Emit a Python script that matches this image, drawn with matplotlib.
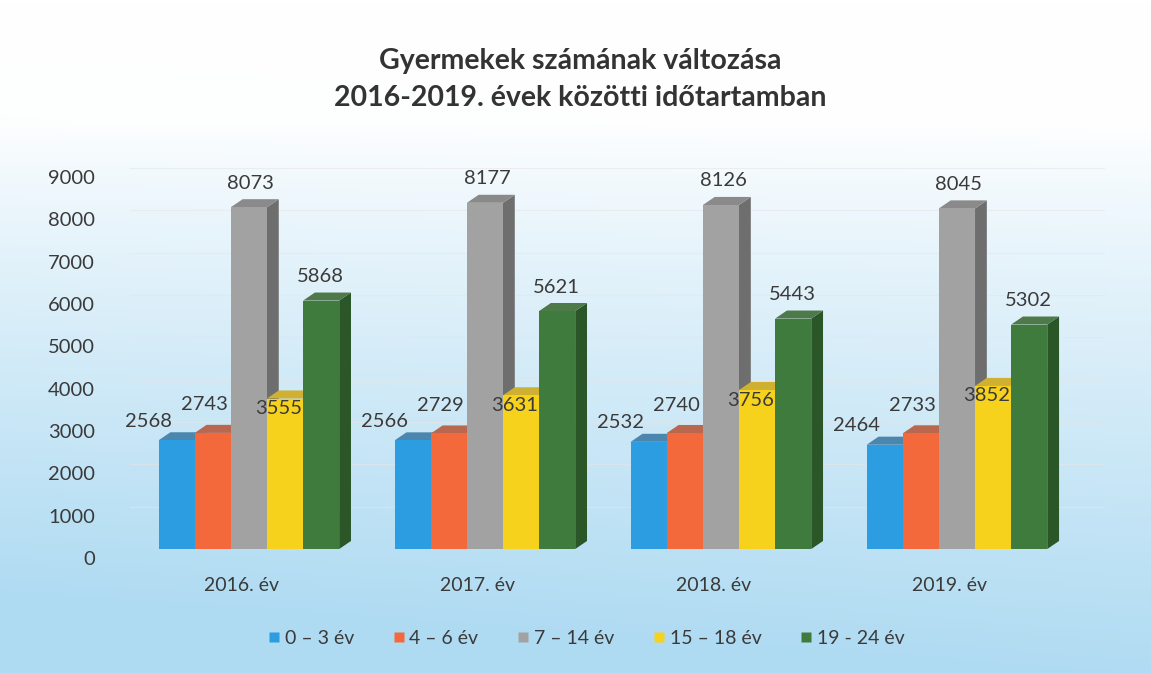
import numpy as np
import matplotlib.pyplot as plt
import matplotlib.transforms as mtrans
from matplotlib.patches import Polygon, Rectangle
from matplotlib.lines import Line2D

# ---- data ----
years = ["2016. év", "2017. év", "2018. év", "2019. év"]
groups = ["0 – 3 év", "4 – 6 év", "7 – 14 év", "15 – 18 év", "19 - 24 év"]
v_0_3 = [2568, 2566, 2532, 2464]
v_4_6 = [2743, 2729, 2740, 2733]
v_7_14 = [8073, 8177, 8126, 8045]
v_15_18 = [3555, 3631, 3756, 3852]
v_19_24 = [5868, 5621, 5443, 5302]
series = [v_0_3, v_4_6, v_7_14, v_15_18, v_19_24]
yticks = list(range(0, 9001, 1000))

# ---- style ----
front = ["#2b9de0", "#f4693c", "#a2a2a2", "#f7d21c", "#3e7b3c"]
side = ["#1d6fa3", "#b24a2a", "#6e6e6e", "#c9a612", "#2a5628"]
topc = ["#4a86ad", "#b9674e", "#8a8a8a", "#d0b030", "#4e7a4a"]
# label offsets in pixels (dx, dy) relative to bar front top centre
lab_off = [(-28, 19), (-8, 28), (2, 24), (-6, -10), (-1, 24)]
txt = "#3a3a3a"
plt.rcParams["font.family"] = ["Lato", "DejaVu Sans"]

fig = plt.figure(figsize=(11.51, 6.73), dpi=100)

# background gradient
bg = fig.add_axes([0, 0, 1, 1], zorder=-5)
h, w = 200, 300
yy, xx = np.mgrid[0:h, 0:w]
t = np.clip((yy / h - 0.18) / 0.82, 0, 1) ** 0.85
t = np.clip(t + 0.15 * (1 - xx / w) * (yy / h), 0, 1)
top_rgb = np.array([1.0, 1.0, 1.0])
bot_rgb = np.array([0.69, 0.86, 0.95])
img = top_rgb[None, None, :] * (1 - t[..., None]) + bot_rgb[None, None, :] * t[..., None]
bg.imshow(img, aspect="auto", extent=[0, 1, 0, 1], origin="upper")
bg.axis("off")

ax = fig.add_axes([0.1129, 0.1842, 0.8471, 0.5662])
ax.set_facecolor("none")
ax.set_xlim(-0.504, 3.627)
ax.set_ylim(0, 9000)

bw = 0.153
dx, dy = 0.05, 190
x = np.arange(len(years))
for g in range(len(years)):
    for s, vals in enumerate(series):
        x0 = x[g] + (s - 2.5) * bw
        v = vals[g]
        z = 3 + s
        ax.add_patch(Polygon([(x0 + bw, 0), (x0 + bw + dx, dy), (x0 + bw + dx, v + dy), (x0 + bw, v)],
                             closed=True, facecolor=side[s], edgecolor="none", zorder=z))
        ax.add_patch(Polygon([(x0, v), (x0 + bw, v), (x0 + bw + dx, v + dy), (x0 + dx, v + dy)],
                             closed=True, facecolor=topc[s], edgecolor="none", zorder=z))
        ax.add_patch(Rectangle((x0, 0), bw, v, facecolor=front[s], edgecolor="none", zorder=z))
        ox, oy = lab_off[s]
        ax.annotate(str(v), (x0 + bw / 2, v), xytext=(ox * 0.72, oy * 0.72), textcoords="offset points",
                    ha="center", va="center", fontsize=14.5, color=txt, zorder=20)

for yv in yticks[1:]:
    ax.axhline(yv, color="#e6e6e6", lw=0.8, alpha=0.6, zorder=1)

ax.set_yticks(yticks)
ax.set_xticks(x)
ax.set_xticklabels(years)
ax.tick_params(axis="y", length=0, pad=25, labelsize=14.5, labelcolor=txt)
ax.tick_params(axis="x", length=0, pad=20, labelsize=14, labelcolor=txt)
for sp in ax.spines.values():
    sp.set_visible(False)
# 3D look: value labels sit a bit below the bar floor, category labels a bit left
shift_y = mtrans.ScaledTranslation(0, -9 / 100, fig.dpi_scale_trans)
for lab in ax.get_yticklabels():
    lab.set_transform(lab.get_transform() + shift_y)
shift_x = mtrans.ScaledTranslation(-7 / 100, 0, fig.dpi_scale_trans)
for lab in ax.get_xticklabels():
    lab.set_transform(lab.get_transform() + shift_x)

fig.text(0.504, 0.882, "Gyermekek számának változása\n2016-2019. évek közötti időtartamban",
         ha="center", va="center", fontsize=20.5, fontweight="bold", color="#333333", linespacing=1.55)

handles = [Line2D([], [], marker="s", ls="none", markersize=7, markerfacecolor=c, markeredgecolor="none")
           for c in front]
fig.legend(handles, groups, loc="center", bbox_to_anchor=(0.509, 0.052), ncol=5, frameon=False,
           fontsize=14, labelcolor=txt, handlelength=0.7, handletextpad=0.2, columnspacing=1.95)

fig.savefig("out.png", dpi=100)
